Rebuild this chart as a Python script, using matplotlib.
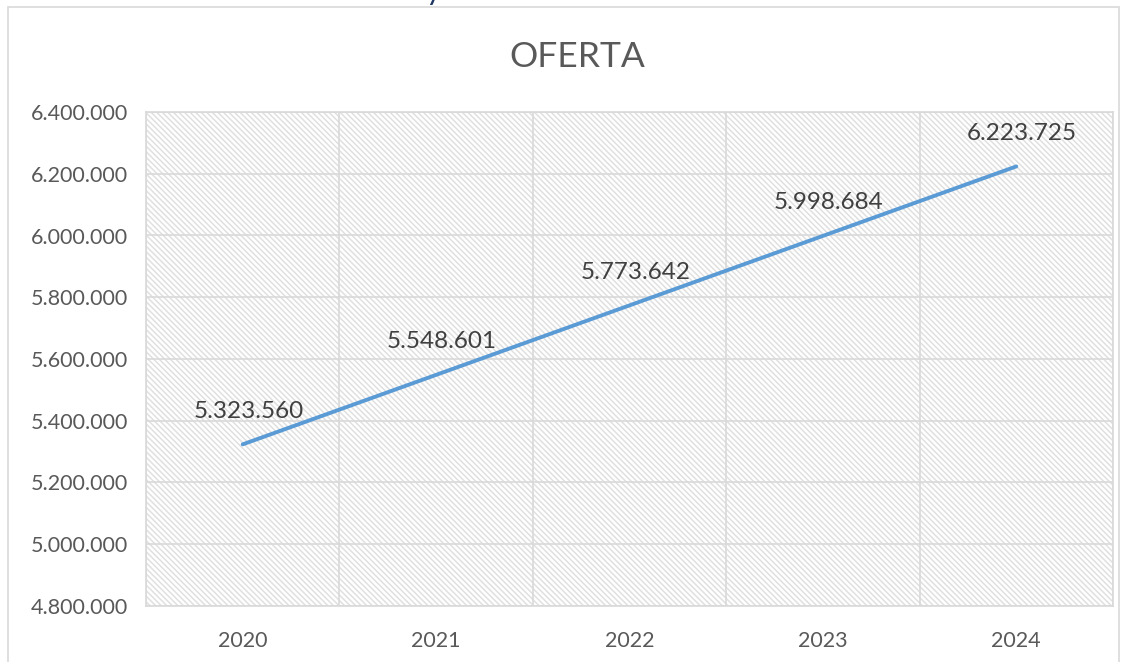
import matplotlib.pyplot as plt
from matplotlib.patches import Rectangle
from matplotlib.ticker import FuncFormatter, MultipleLocator

# data
years = ["2020", "2021", "2022", "2023", "2024"]
oferta = [5323560, 5548601, 5773642, 5998684, 6223725]

y_min = 4800000
y_max = 6400000
y_step = 200000


def miles(v, pos=None):
    # thousands separator with a dot (es format)
    return f"{int(round(v)):,}".replace(",", ".")


plt.rcParams['font.family'] = ['Lato', 'DejaVu Sans']
plt.rcParams['hatch.linewidth'] = 1.1
plt.rcParams['hatch.color'] = '#e0e0e0'

fig = plt.figure(figsize=(11.28, 6.62), dpi=100)

# chart area border
fig.patches.append(Rectangle((8 / 1128, -0.1), 1111 / 1128, 1.1 - 7 / 662,
                             transform=fig.transFigure, fill=False,
                             edgecolor='#d9d9d9', linewidth=1.2))
# cut off heading text above the chart
fig.text(434 / 1128, 1.0 + 9 / 662, "y", color='#1f3864', fontsize=22,
         ha='center', va='center')

ax = fig.add_axes([146 / 1128, 1 - 606 / 662, 967 / 1128, 494 / 662])
x = list(range(len(years)))

# pattern fill of the plot area
ax.add_patch(Rectangle((0, 0), 1, 1, transform=ax.transAxes, facecolor='white',
                       edgecolor='#e0e0e0', linewidth=0, hatch='\\' * 6, zorder=0))

ax.set_xlim(-0.5, len(years) - 0.5)
ax.set_ylim(y_min, y_max)
ax.yaxis.set_major_locator(MultipleLocator(y_step))
ax.yaxis.set_major_formatter(FuncFormatter(miles))
ax.set_xticks(x)
ax.set_xticklabels(years)
ax.set_xticks([i - 0.5 for i in range(len(years) + 1)], minor=True)

ax.grid(axis='y', which='major', color='#d9d9d9', linewidth=1.2, zorder=1)
ax.grid(axis='x', which='minor', color='#d9d9d9', linewidth=1.2, zorder=1)
ax.set_axisbelow(True)
ax.tick_params(which='both', length=0)
ax.tick_params(axis='y', labelsize=15.5, labelcolor='#595959', pad=13)
ax.tick_params(axis='x', labelsize=15.5, labelcolor='#595959', pad=18)
for s in ax.spines.values():
    s.set_color('#d9d9d9')
    s.set_linewidth(1.2)

ax.plot(x, oferta, color='#5b9bd5', linewidth=2.8, solid_capstyle='round', zorder=3)

# data labels
for i in range(len(oferta)):
    ax.annotate(miles(oferta[i]), (x[i], oferta[i]), xytext=(6, 33),
                textcoords='offset pixels', ha='center', va='center',
                fontsize=17.5, color='#404040', zorder=4)

fig.text(577 / 1128, 1 - 57 / 662, "OFERTA", ha='center', va='center',
         fontsize=25.5, color='#595959')

plt.savefig("out.png", dpi=100)
